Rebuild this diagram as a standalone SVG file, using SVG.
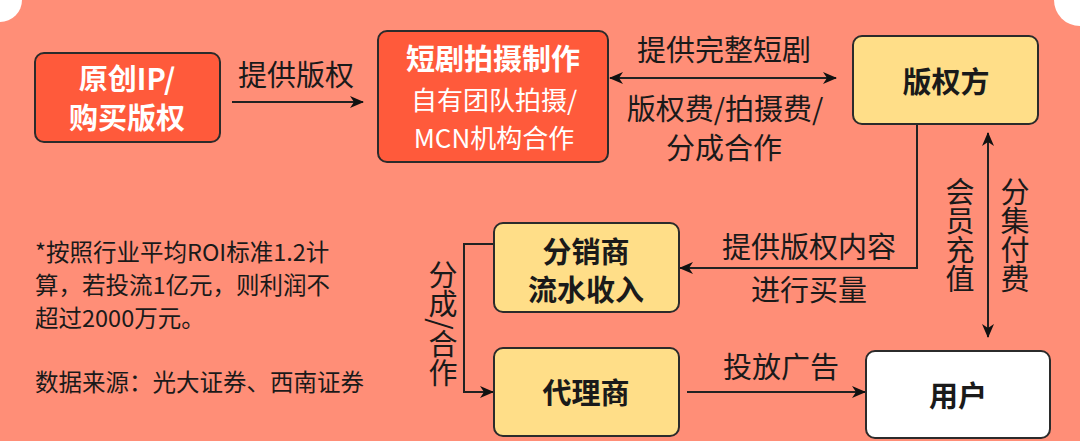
<svg xmlns="http://www.w3.org/2000/svg" width="1080" height="441" viewBox="0 0 1080 441">
<style>
text{font-family:"Noto Sans CJK SC","Noto Sans",sans-serif;fill:#1a1a1a;dominant-baseline:central;text-anchor:middle}
.red{fill:#FF5A3B;stroke:#2b2b2b;stroke-width:2}
.yel{fill:#FFDE88;stroke:#2b2b2b;stroke-width:2}
.wht{fill:#FFFFFF;stroke:#2b2b2b;stroke-width:2}
.tw{fill:#FFFFFF}
.b{font-weight:bold}
.lbl{font-size:29px}
.vt{font-size:29px;writing-mode:vertical-rl;text-orientation:mixed}
.note{font-size:23.5px;text-anchor:start;dominant-baseline:auto}
.ln{fill:none;stroke:#222;stroke-width:2}
</style>
<defs>
<marker id="ah" markerUnits="userSpaceOnUse" markerWidth="14" markerHeight="12" refX="13" refY="6" orient="auto-start-reverse">
<path d="M0,0 L14,6 L0,12 L4,6 Z" fill="#111"/>
</marker>
</defs>
<rect x="0" y="0" width="1080" height="441" fill="#FF8E77"/>
<circle cx="0" cy="0" r="22" fill="#FFFFFF"/>
<circle cx="1080" cy="0" r="26" fill="#FFFFFF"/>

<g id="connectors">
<line class="ln" x1="232" y1="102" x2="363" y2="102" marker-end="url(#ah)"/>
<line class="ln" x1="610" y1="78" x2="836" y2="78" marker-start="url(#ah)" marker-end="url(#ah)"/>
<polyline class="ln" points="917,124 917,268 680,268" marker-end="url(#ah)"/>
<line class="ln" x1="988" y1="133" x2="988" y2="337" marker-start="url(#ah)" marker-end="url(#ah)"/>
<polyline class="ln" points="494,244 464,244 464,392 493,392" marker-end="url(#ah)"/>
<line class="ln" x1="687" y1="392" x2="865" y2="392" marker-end="url(#ah)"/>
<text class="lbl" x="296" y="73">提供版权</text>
<text class="lbl" x="724" y="48">提供完整短剧</text>
<text class="lbl" x="725" y="107">版权费/拍摄费/</text>
<text class="lbl" x="724" y="146">分成合作</text>
<text class="lbl" x="809" y="245">提供版权内容</text>
<text class="lbl" x="809" y="288">进行买量</text>
<text class="lbl" x="781" y="365">投放广告</text>
<text class="vt" x="960" y="235">会员充值</text>
<text class="vt" x="1015" y="235">分集付费</text>
<text class="vt" x="443" y="324">分成/合作</text>
</g>

<g id="n-ip">
<rect class="red" x="35" y="53" width="185" height="89" rx="9"/>
<text class="tw b" x="127" y="77" font-size="29">原创IP/</text>
<text class="tw b" x="127" y="116" font-size="29">购买版权</text>
</g>

<g id="n-prod">
<rect class="red" x="378" y="31" width="230" height="131" rx="9"/>
<text class="tw b" x="493" y="57" font-size="29">短剧拍摄制作</text>
<text class="tw" x="494" y="98" font-size="26">自有团队拍摄/</text>
<text class="tw" x="494" y="136" font-size="26">MCN机构合作</text>
</g>

<g id="n-owner">
<rect class="yel" x="853" y="36" width="185" height="88" rx="9"/>
<text class="b" x="946" y="80" font-size="29">版权方</text>
</g>

<g id="n-dist">
<rect class="yel" x="494" y="223" width="185" height="89" rx="9"/>
<text class="b" x="586" y="250" font-size="29">分销商</text>
<text class="b" x="586" y="288" font-size="29">流水收入</text>
</g>

<g id="n-agent">
<rect class="yel" x="494" y="348" width="185" height="88" rx="9"/>
<text class="b" x="586" y="391" font-size="29">代理商</text>
</g>

<g id="n-user">
<rect class="wht" x="866" y="351" width="184" height="87" rx="9"/>
<text class="b" x="958" y="394" font-size="29">用户</text>
</g>

<g id="notes">
<text class="note" x="35" y="261">*按照行业平均ROI标准1.2计</text>
<text class="note" x="35" y="294">算，若投流1亿元，则利润不</text>
<text class="note" x="35" y="327">超过2000万元。</text>
<text class="note" x="35" y="391">数据来源：光大证券、西南证券</text>
</g>
</svg>
